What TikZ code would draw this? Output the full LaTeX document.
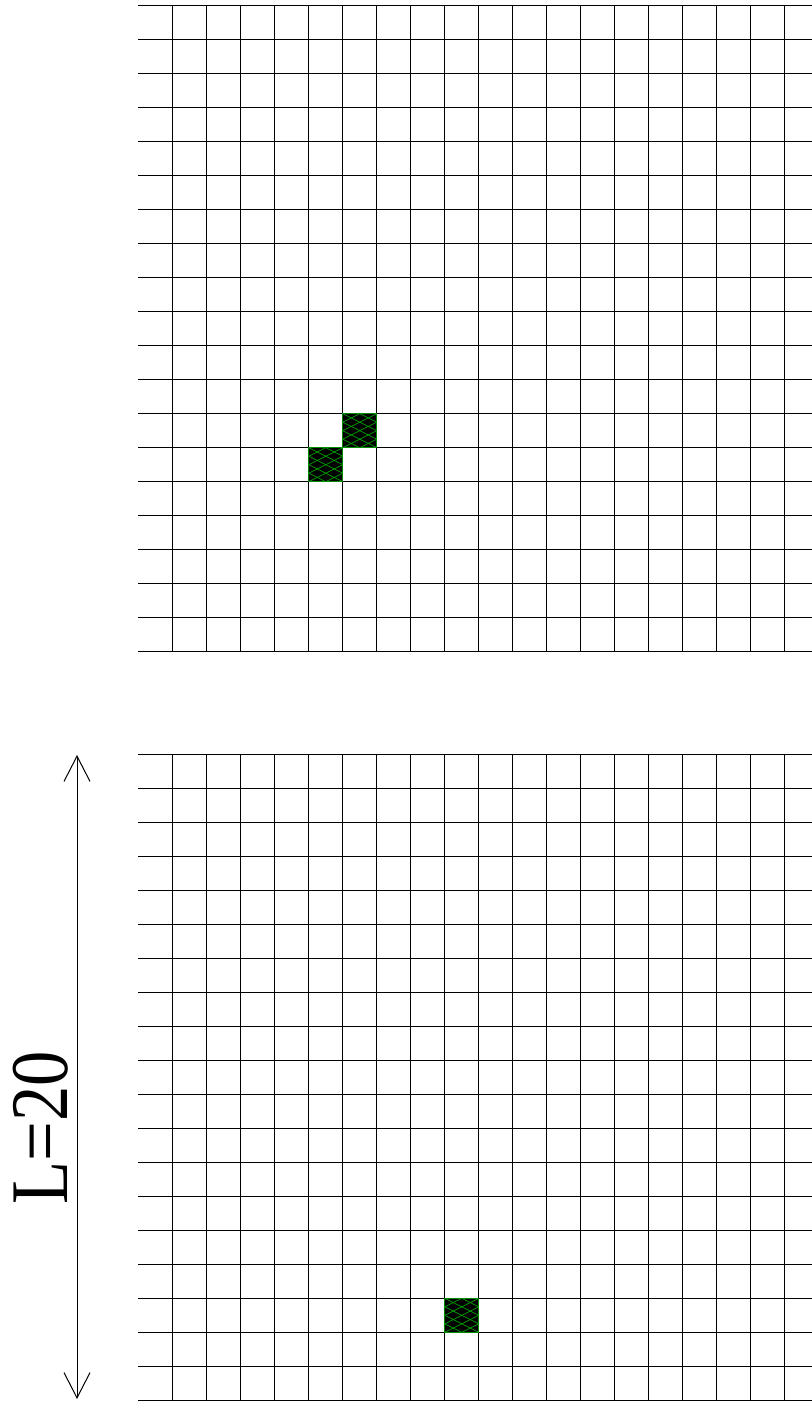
\documentclass[tikz,border=0pt]{standalone}
\usepackage{fontspec}
\setmainfont{Liberation Serif}
\usepackage{graphicx}
\usetikzlibrary{arrows.meta}
\newcommand\hatchcell[2]{%
  \begin{scope}
    \clip (#1,#2) rectangle ++(34,34);
    \fill[black] (#1,#2) rectangle ++(34,34);
    \foreach \c in {-17,-8.5,...,34} {
      \draw[hatchline] (#1,#2+\c) -- ++(34,17);
      \draw[hatchline] (#1,#2+\c+17) -- ++(34,-17);
    }
  \end{scope}
  \draw[cellborder] (#1,#2) rectangle ++(34,34);
}
\begin{document}
\begin{tikzpicture}[x=0.75pt,y=-0.75pt,
  gridline/.style={line width=0.75pt, black},
  hatchline/.style={line width=0.5pt, green!65!black},
  cellborder/.style={line width=1pt, green!55!black},
  dimarrow/.style={line width=0.75pt, {Straight Barb[length=19pt,width=19.5pt]}-{Straight Barb[length=19pt,width=19.5pt]}}]
\useasboundingbox (0,0) rectangle (812,1401);
\fill[white] (0,0) rectangle (812,1401);
% two grids
\foreach \gy in {5.7,754.3}{
  \foreach \k in {0,...,19} \draw[gridline] (138.3,\gy+34*\k) -- (812,\gy+34*\k);
  \foreach \k in {0,...,18} \draw[gridline] (172.7+34*\k,\gy) -- (172.7+34*\k,\gy+646);
}
% occupied cells
\hatchcell{342.7}{413.7}
\hatchcell{308.7}{447.7}
\hatchcell{444.7}{1298.3}
% dimension arrow
\coordinate (atop) at (77,755);
\coordinate (abot) at (77,1399);
\draw[dimarrow] (atop) -- (abot);
\node[rotate=90, anchor=base, inner sep=0pt] (lbl) at (67,1127.5)
  {\scalebox{1}[1.16]{\fontsize{52.9}{60}\selectfont L=20}};
\end{tikzpicture}
\end{document}
